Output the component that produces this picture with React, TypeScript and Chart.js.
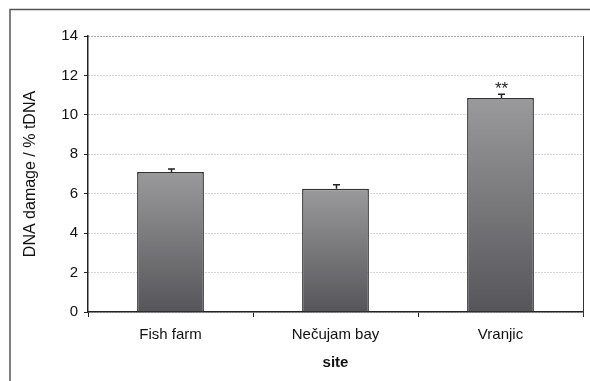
import React, { useEffect, useRef } from "react";
import { Chart, registerables } from "chart.js";

Chart.register(...registerables);

const categories = ["Fish farm", "Nečujam bay", "Vranjic"];
const values = [7.1, 6.25, 10.85];
const errors = [0.15, 0.2, 0.2];
const marks = ["", "", "**"];
const yTicks = [0, 2, 4, 6, 8, 10, 12, 14];

const FONT = "'Liberation Sans', Arial, sans-serif";

const extras = {
  id: "extras",
  afterDatasetsDraw(chart: any) {
    const ctx = chart.ctx;
    const area = chart.chartArea;
    const y = chart.scales.y;
    const meta = chart.getDatasetMeta(0);
    ctx.save();
    // right border of plot
    ctx.strokeStyle = "#333";
    ctx.lineWidth = 1;
    ctx.beginPath();
    ctx.moveTo(Math.round(area.right) + 0.5, area.top);
    ctx.lineTo(Math.round(area.right) + 0.5, area.bottom + 4);
    ctx.stroke();
    // error bars and marks
    meta.data.forEach((bar: any, i: number) => {
      const x = Math.round(bar.x) + 0.5;
      const top = y.getPixelForValue(values[i] + errors[i]);
      const base = y.getPixelForValue(values[i]);
      ctx.strokeStyle = "#222";
      ctx.lineWidth = 1.5;
      ctx.beginPath();
      ctx.moveTo(x, base);
      ctx.lineTo(x, top);
      ctx.moveTo(x - 3.5, top);
      ctx.lineTo(x + 3.5, top);
      ctx.stroke();
      if (marks[i]) {
        ctx.fillStyle = "#222";
        ctx.font = "17px " + FONT;
        ctx.textAlign = "center";
        ctx.textBaseline = "middle";
        ctx.fillText(marks[i], x, top - 5);
      }
    });
    ctx.restore();
  },
  afterDraw(chart: any) {
    const ctx = chart.ctx;
    ctx.save();
    ctx.strokeStyle = "#555";
    ctx.lineWidth = 1.5;
    ctx.beginPath();
    ctx.moveTo(10, 381);
    ctx.lineTo(10, 9.5);
    ctx.lineTo(590, 9.5);
    ctx.stroke();
    ctx.restore();
  },
};

export default function App() {
  const ref = useRef<HTMLCanvasElement>(null);
  useEffect(() => {
    document.body.style.margin = "0";
    const chart = new Chart(ref.current as HTMLCanvasElement, {
      type: "bar",
      data: {
        labels: categories,
        datasets: [
          {
            data: values,
            backgroundColor: (c: any) => {
              const chartObj = c.chart;
              const area = chartObj.chartArea;
              if (!area) return "#808080";
              const yScale = chartObj.scales.y;
              const v = values[c.dataIndex] ?? 0;
              const t = yScale.getPixelForValue(v);
              const b = yScale.getPixelForValue(0);
              const g = chartObj.ctx.createLinearGradient(0, t, 0, b);
              g.addColorStop(0, "#9a9a9c");
              g.addColorStop(1, "#56565a");
              return g;
            },
            borderColor: "#333",
            borderWidth: 1.5,
            borderSkipped: "bottom",
            barPercentage: 0.81,
            categoryPercentage: 0.5,
          },
        ],
      },
      options: {
        animation: false,
        responsive: false,
        maintainAspectRatio: false,
        layout: { padding: { left: 0, right: 7, top: 36, bottom: 0 } },
        plugins: { legend: { display: false }, tooltip: { enabled: false } },
        scales: {
          x: {
            afterFit: (s: any) => {
              s.height = 69;
            },
            grid: {
              offset: true,
              drawOnChartArea: false,
              drawTicks: true,
              tickLength: 5,
              tickColor: "#222",
            },
            border: { color: "#222", width: 1.5 },
            ticks: {
              color: "#111",
              font: { family: FONT, size: 15 },
              padding: 9,
            },
            title: {
              display: true,
              text: "site",
              color: "#111",
              font: { family: FONT, size: 15, weight: "bold" },
              padding: { top: 0, bottom: 9 },
            },
          },
          y: {
            min: 0,
            max: 14,
            afterFit: (s: any) => {
              s.width = 88;
            },
            afterBuildTicks: (s: any) => {
              s.ticks = yTicks.map((v) => ({ value: v }));
            },
            grid: {
              color: (c: any) => (c.tick && c.tick.value === 14 ? "#555" : "#a8a8a8"),
              lineWidth: 1,
              tickLength: 4,
              tickColor: "#222",
            },
            border: { color: "#222", width: 1.5, dash: [1, 2] },
            ticks: {
              color: "#111",
              font: { family: FONT, size: 15 },
              padding: 6,
            },
            title: {
              display: true,
              text: "DNA damage / % tDNA",
              color: "#111",
              font: { family: FONT, size: 16 },
              padding: { top: 21, bottom: 0 },
            },
          },
        },
      },
      plugins: [extras],
    } as any);
    return () => chart.destroy();
  }, []);
  return (
    <div style={{ position: "absolute", left: 0, top: 0, width: 590, height: 381, background: "#fff" }}>
      <canvas ref={ref} width={590} height={381} style={{ display: "block" }} />
    </div>
  );
}
